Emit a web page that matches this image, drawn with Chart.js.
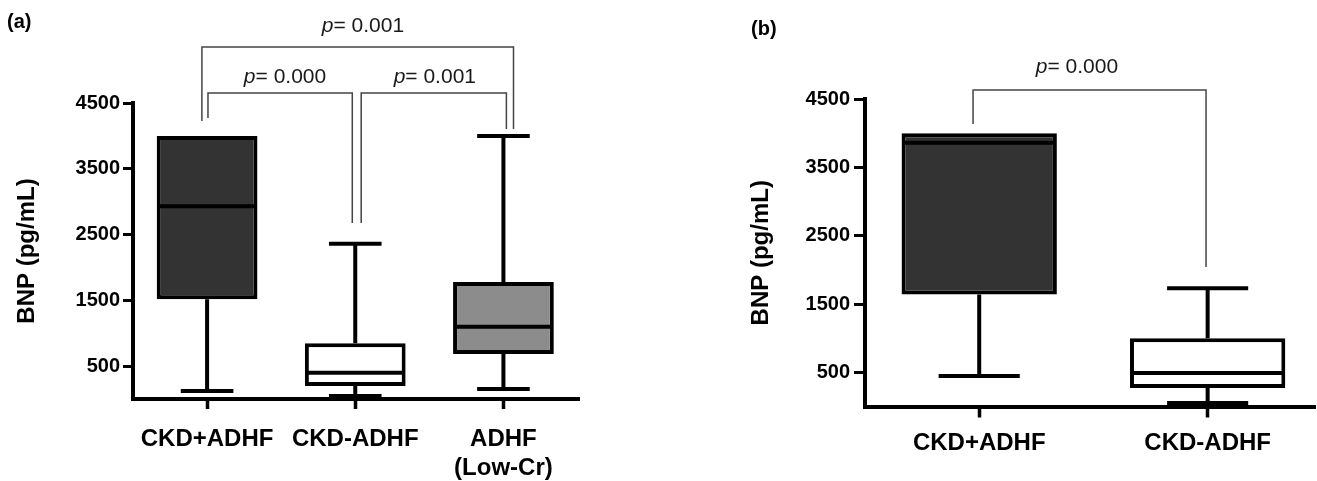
<!DOCTYPE html>
<html><head><meta charset="utf-8">
<script src="https://cdn.jsdelivr.net/npm/chart.js@4.4.1/dist/chart.umd.min.js"></script>
<style>
html,body{margin:0;padding:0;background:#fff;width:1317px;height:481px;overflow:hidden;}
.wrap{position:absolute;top:0;}
canvas{display:block;}
.plabel{position:absolute;font:bold 20px 'Liberation Sans',Arial,sans-serif;line-height:20px;color:#000;}
</style></head><body>
<div class="wrap" style="left:0;width:640px;height:481px"><canvas id="ca" width="640" height="481"></canvas></div>
<div class="wrap" style="left:700px;width:617px;height:481px"><canvas id="cb" width="617" height="481"></canvas></div>
<div class="plabel" style="left:7px;top:11px">(a)</div>
<div class="plabel" style="left:751px;top:18px">(b)</div>
<script>
// ---------- data ----------
const categoriesA = ['CKD+ADHF', 'CKD-ADHF', ['ADHF', '(Low-Cr)']];
const minA    = [122, 46, 152];
const q1A     = [1515, 198, 684];
const medianA = [2930, 398, 1097];
const q3A     = [4000, 847, 1780];
const maxA    = [4000, 2360, 4000];

const categoriesB = ['CKD+ADHF', 'CKD-ADHF'];
const minB    = [445, 50];
const q1B     = [1640, 270];
const medianB = [3860, 489];
const q3B     = [4000, 1000];
const maxB    = [4000, 1730];

const yTicks = [500, 1500, 2500, 3500, 4500];
const yTitle = 'BNP (pg/mL)';

const comparisonsA = [
  {from: 0, to: 1, p: '0.000'},
  {from: 1, to: 2, p: '0.001'},
  {from: 0, to: 2, p: '0.001'}
];
const comparisonsB = [
  {from: 0, to: 1, p: '0.000'}
];

// ---------- layout of significance brackets (data units) ----------
const bracketLayoutA = [
  {dxL: 0.006, dxR: -0.02, level: 4652, dropL: 4272, dropR: 2676, textDx: 0.526, textLevel: 4804},
  {dxL: 0.04,  dxR: 0.02,  level: 4652, dropL: 2676, dropR: 4105, textDx: 0.537, textLevel: 4804},
  {dxL: -0.035, dxR: 0.068, level: 5351, dropL: 4226, dropR: 4105, textDx: 1.052, textLevel: 5579}
];
const bracketLayoutB = [
  {dxL: -0.027, dxR: -0.007, level: 4632, dropL: 4134, dropR: 2042, textDx: 0.428, textLevel: 4880}
];

const FONT = "'Liberation Sans', Arial, sans-serif";

function boxPlugin(mins, meds, maxs, q1s, q3s, comps, layout) {
  return {
    id: 'boxwhisker',
    beforeDatasetsDraw(chart) {
      const xs = chart.scales.x, ys = chart.scales.y, ctx = chart.ctx;
      const unit = xs.getPixelForValue(1) - xs.getPixelForValue(0);
      const capW = unit * 0.355;
      ctx.save();
      ctx.strokeStyle = '#000';
      ctx.lineWidth = 4;
      ctx.lineCap = 'butt';
      for (let i = 0; i < mins.length; i++) {
        const x = xs.getPixelForValue(i);
        const yMin = ys.getPixelForValue(mins[i]);
        const yQ1 = ys.getPixelForValue(q1s[i]);
        const yQ3 = ys.getPixelForValue(q3s[i]);
        const yMax = ys.getPixelForValue(maxs[i]);
        ctx.beginPath();
        ctx.moveTo(x, yQ1); ctx.lineTo(x, yMin);
        ctx.moveTo(x - capW / 2, yMin); ctx.lineTo(x + capW / 2, yMin);
        if (maxs[i] > q3s[i]) {
          ctx.moveTo(x, yQ3); ctx.lineTo(x, yMax);
          ctx.moveTo(x - capW / 2, yMax); ctx.lineTo(x + capW / 2, yMax);
        }
        ctx.stroke();
      }
      ctx.restore();
    },
    afterDatasetsDraw(chart) {
      const xs = chart.scales.x, ys = chart.scales.y, ctx = chart.ctx;
      const meta = chart.getDatasetMeta(0);
      ctx.save();
      ctx.strokeStyle = '#000';
      ctx.lineWidth = 4;
      for (let i = 0; i < meds.length; i++) {
        const el = meta.data[i];
        const y = ys.getPixelForValue(meds[i]);
        ctx.beginPath();
        ctx.moveTo(el.x - el.width / 2 + 2, y);
        ctx.lineTo(el.x + el.width / 2 - 2, y);
        ctx.stroke();
      }
      // brackets
      ctx.strokeStyle = '#444';
      ctx.lineWidth = 1.5;
      ctx.fillStyle = '#1a1a1a';
      comps.forEach((c, k) => {
        const L = layout[k];
        const xl = xs.getPixelForValue(c.from + L.dxL);
        const xr = xs.getPixelForValue(c.to + L.dxR);
        const yl = ys.getPixelForValue(L.level);
        ctx.beginPath();
        ctx.moveTo(xl, ys.getPixelForValue(L.dropL));
        ctx.lineTo(xl, yl);
        ctx.lineTo(xr, yl);
        ctx.lineTo(xr, ys.getPixelForValue(L.dropR));
        ctx.stroke();
        const cx = xs.getPixelForValue(c.from + L.textDx);
        const ty = ys.getPixelForValue(L.textLevel);
        const rest = '= ' + c.p;
        ctx.textBaseline = 'alphabetic';
        ctx.textAlign = 'left';
        ctx.font = 'italic 21px ' + FONT;
        const wp = ctx.measureText('p').width;
        ctx.font = '21px ' + FONT;
        const wr = ctx.measureText(rest).width;
        const x0 = cx - (wp + wr) / 2;
        ctx.font = 'italic 21px ' + FONT;
        ctx.fillText('p', x0, ty);
        ctx.font = '21px ' + FONT;
        ctx.fillText(rest, x0 + wp, ty);
      });
      ctx.restore();
    }
  };
}

function makeChart(id, cats, mins, q1s, meds, q3s, maxs, colors, comps, layout, geo) {
  const data = q1s.map((q, i) => ({x: i, y: [q, q3s[i]]}));
  return new Chart(document.getElementById(id), {
    type: 'bar',
    data: {
      datasets: [{
        data: data,
        backgroundColor: colors,
        borderColor: '#000',
        borderWidth: 4,
        borderSkipped: false,
        barPercentage: 0.68,
        categoryPercentage: 1.0
      }]
    },
    plugins: [boxPlugin(mins, meds, maxs, q1s, q3s, comps, layout)],
    options: {
      responsive: false,
      animation: false,
      devicePixelRatio: 1,
      layout: {padding: {left: 0, top: geo.top, right: geo.right, bottom: 0}},
      plugins: {legend: {display: false}, tooltip: {enabled: false}},
      scales: {
        x: {
          type: 'linear',
          offset: false,
          min: -0.5, max: geo.xmax,
          afterBuildTicks(s) { s.ticks = cats.map((c, i) => ({value: i})); },
          afterFit(s) { s.height = geo.xh; },
          ticks: {
            callback: (v) => cats[v],
            color: '#000',
            font: {family: FONT, size: 24, weight: 'bold'},
            padding: geo.xpad,
            maxRotation: 0, autoSkip: false
          },
          grid: {offset: false, drawOnChartArea: false, drawTicks: true, tickLength: geo.tl, tickWidth: 3.5, tickColor: '#000'},
          border: {display: true, width: 4, color: '#000'}
        },
        y: {
          type: 'linear',
          min: 0, max: 4500,
          afterBuildTicks(s) { s.ticks = yTicks.map(v => ({value: v})); },
          afterFit(s) { s.width = geo.yw; },
          ticks: {
            callback: (v) => String(v),
            color: '#000',
            font: {family: FONT, size: 20, weight: 'bold'},
            padding: geo.ypad
          },
          grid: {drawOnChartArea: false, drawTicks: true, tickLength: geo.tl, tickWidth: 3, tickColor: '#000'},
          border: {display: true, width: 4, color: '#000'},
          title: {
            display: true, text: yTitle, color: '#000',
            font: {family: FONT, size: 24, weight: 'bold'},
            padding: {top: geo.titlePad, bottom: 0}
          }
        }
      }
    }
  });
}

makeChart('ca', categoriesA, minA, q1A, medianA, q3A, maxA,
  ['#333333', '#ffffff', '#8c8c8c'], comparisonsA, bracketLayoutA,
  {top: 103, right: 61, xh: 82, yw: 133, xmax: 2.51, xpad: 16, ypad: 3, tl: 10, titlePad: 12.6});

makeChart('cb', categoriesB, minB, q1B, medianB, q3B, maxB,
  ['#333333', '#ffffff'], comparisonsB, bracketLayoutB,
  {top: 99, right: 2, xh: 74.5, yw: 165, xmax: 1.47, xpad: 11, ypad: 4, tl: 11, titlePad: 47});
</script>
</body></html>
